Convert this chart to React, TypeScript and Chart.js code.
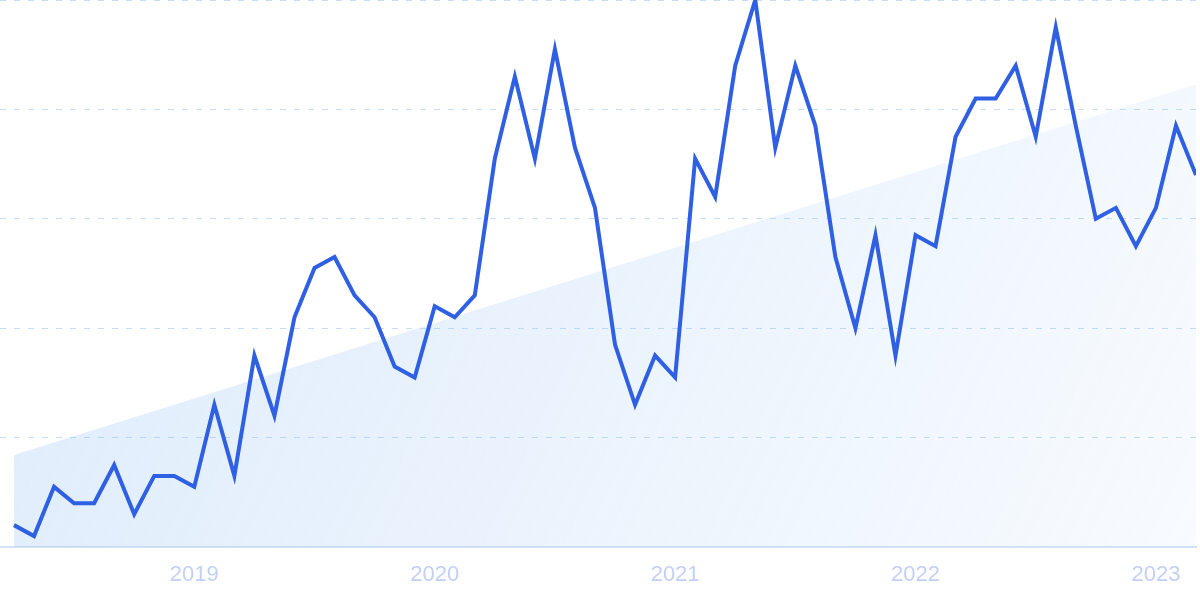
import React, { useEffect, useRef } from 'react';
import { Chart, registerables } from 'chart.js';

Chart.register(...registerables);

// Monthly values, April 2018 .. March 2023 (index 0 = Apr 2018)
const values = [
  4, 2, 11, 8, 8, 15, 6, 13, 13, 11, 26, 13,
  35, 24, 42, 51, 53, 46, 42, 33, 31, 44, 42, 46,
  71, 86, 71, 91, 73, 62, 37, 26, 35, 31, 71, 64,
  88, 100, 73, 88, 77, 53, 40, 57, 35, 57, 55, 75,
  82, 82, 88, 75, 95, 77, 60, 62, 55, 62, 77, 68,
];
const yearLabels = ['2019', '2020', '2021', '2022', '2023'];
const yearIndex = [9, 21, 33, 45, 57];
// Trend line: value at the first and at the last month
const trendIndex = [0, 59];
const trendValues = [16.8, 84.6];

export default function App() {
  const ref = useRef<HTMLCanvasElement | null>(null);

  useEffect(() => {
    if (!ref.current) return;
    const chart = new Chart(ref.current, {
      type: 'line',
      data: {
        datasets: [
          {
            data: values.map((v, i) => ({ x: i, y: v })),
            borderColor: '#2f5fe3',
            borderWidth: 4,
            pointRadius: 0,
            tension: 0,
            fill: false,
            borderJoinStyle: 'miter',
            order: 1,
          },
          {
            data: trendIndex.map((x, i) => ({ x, y: trendValues[i] })),
            borderWidth: 0,
            borderColor: 'transparent',
            pointRadius: 0,
            tension: 0,
            fill: 'origin',
            order: 2,
            backgroundColor: (ctx: any) => {
              const { chart } = ctx;
              const area = chart.chartArea;
              if (!area) return 'rgba(160,200,245,0.3)';
              const g = chart.ctx.createLinearGradient(area.left, area.top, area.right, area.bottom);
              g.addColorStop(0, 'rgba(160,200,245,0.36)');
              g.addColorStop(1, 'rgba(160,200,245,0.08)');
              return g;
            },
          },
        ],
      },
      options: {
        animation: false,
        responsive: false,
        maintainAspectRatio: false,
        layout: { padding: { left: 0, right: 4, top: 0, bottom: -4 } },
        plugins: { legend: { display: false }, tooltip: { enabled: false } },
        scales: {
          x: {
            type: 'linear',
            min: -0.699,
            max: 59,
            afterBuildTicks: (s: any) => {
              s.ticks = yearIndex.map((v) => ({ value: v }));
            },
            ticks: {
              callback: (v: any) => yearLabels[yearIndex.indexOf(Number(v))],
              color: '#c3d0f5',
              font: { family: 'Liberation Sans', size: 22, lineHeight: 1 },
              padding: 17,
              maxRotation: 0,
              autoSkip: false,
            },
            grid: { display: false, drawTicks: false },
            border: { display: true, color: '#d3e2f9', width: 2 },
          },
          y: {
            min: 0,
            max: 100,
            ticks: { display: false, stepSize: 20 },
            grid: {
              drawTicks: false,
              color: (ctx: any) => (ctx.tick && ctx.tick.value === 0 ? 'transparent' : 'rgba(185,210,250,0.8)'),
              lineWidth: 1,
            },
            border: { display: false, dash: [6, 8] },
          },
        },
      },
    });
    return () => chart.destroy();
  }, []);

  return (
    <div style={{ position: 'absolute', left: 0, top: 0, width: 1200, height: 599, background: '#fff' }}>
      <canvas ref={ref} width={1200} height={599} style={{ width: 1200, height: 599, display: 'block' }} />
    </div>
  );
}
